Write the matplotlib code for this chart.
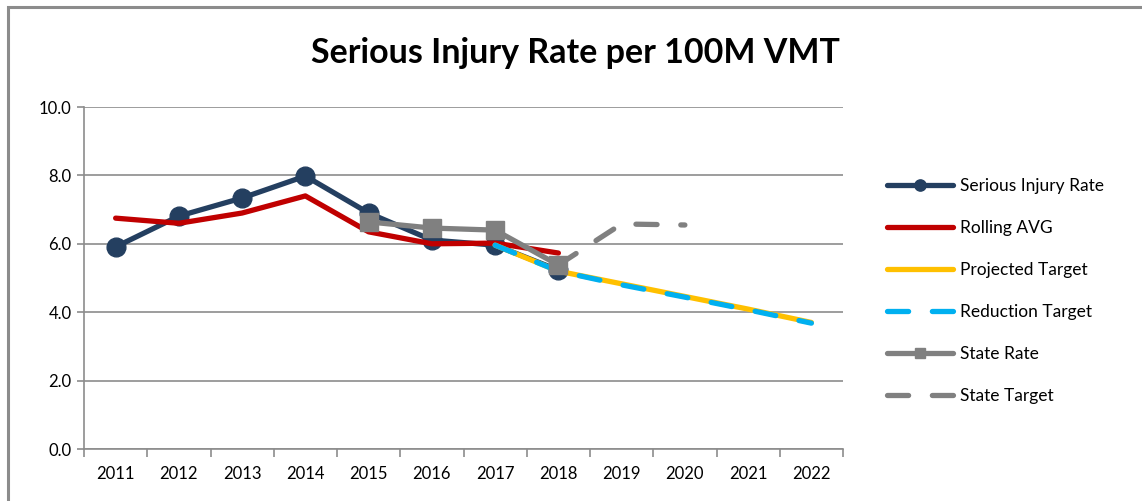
import matplotlib
matplotlib.use("Agg")
import matplotlib.pyplot as plt
from matplotlib.patches import Rectangle
import numpy as np

years = ["2011", "2012", "2013", "2014", "2015", "2016", "2017", "2018", "2019", "2020", "2021", "2022"]
serious_rate = [5.91, 6.81, 7.34, 7.98, 6.90, 6.11, 5.96, 5.23, None, None, None, None]
rolling_avg = [6.75, 6.60, 6.90, 7.40, 6.35, 6.00, 6.02, 5.73, None, None, None, None]
projected_target = [None, None, None, None, None, None, 5.96, 5.20, 4.83, 4.46, 4.09, 3.70]
reduction_target = [None, None, None, None, None, None, 5.96, 5.20, 4.80, 4.44, 4.07, 3.68]
state_rate = [None, None, None, None, 6.64, 6.46, 6.40, 5.38, None, None, None, None]
state_target = [None, None, None, None, None, None, None, 5.38, 6.58, 6.55, None, None]
yticks = [0, 2, 4, 6, 8, 10]

def arr(v):
    return np.array([np.nan if x is None else x for x in v], dtype=float)

plt.rcParams['font.family'] = ['Lato', 'DejaVu Sans']

fig = plt.figure(figsize=(11.42, 5.01), dpi=100)
fig.patches.append(Rectangle((8/1142, -0.1), 1.2, 1 - 7/501 + 0.1, transform=fig.transFigure,
                             fill=False, edgecolor='#8c8c8c', linewidth=2.2))
ax = fig.add_axes([84/1142, 1 - 449/501, (843-84)/1142, (449-107)/501])

x = np.arange(len(years))
navy = '#243F60'
red = '#C00000'
yellow = '#FFC000'
cyan = '#00B0F0'
gray = '#808080'

ax.plot(x, arr(serious_rate), color=navy, lw=3.8, marker='o', ms=13.5, label='Serious Injury Rate',
        solid_capstyle='round', solid_joinstyle='round', zorder=3)
ax.plot(x, arr(rolling_avg), color=red, lw=3.8, label='Rolling AVG',
        solid_capstyle='round', solid_joinstyle='round', zorder=3)
ax.plot(x, arr(projected_target), color=yellow, lw=3.8, label='Projected Target',
        solid_capstyle='round', zorder=3)
ax.plot(x, arr(reduction_target), color=cyan, lw=3.8, ls=(0, (4.0, 4.5)), label='Reduction Target',
        dash_capstyle='round', zorder=3)
ax.plot(x, arr(state_rate), color=gray, lw=3.8, marker='s', ms=13, label='State Rate',
        solid_capstyle='round', solid_joinstyle='round', zorder=3)
ax.plot(x, arr(state_target), color=gray, lw=3.8, ls=(0, (4.0, 4.5)), label='State Target',
        dash_capstyle='round', zorder=3)

ax.set_xlim(-0.5, len(years) - 0.5)
ax.set_ylim(0, 10)
ax.set_yticks(yticks)
ax.set_yticklabels([f"{v:.1f}" for v in yticks], fontsize=12)
ax.set_xticks(x)
ax.set_xticklabels(years, fontsize=12)
ax.set_xticks(np.arange(-0.5, len(years) + 0.5, 1), minor=True)
ax.tick_params(axis='x', which='major', length=0, pad=12)
ax.tick_params(axis='x', which='minor', length=6, color='#8c8c8c', width=1.2)
ax.tick_params(axis='y', length=5, color='#8c8c8c', width=1.2, pad=4)
ax.grid(axis='y', color='#8c8c8c', lw=1.2, zorder=0)
for s in ['top', 'right']:
    ax.spines[s].set_visible(False)
for s in ['left', 'bottom']:
    ax.spines[s].set_color('#8c8c8c')
    ax.spines[s].set_linewidth(1.2)

fig.text(0.5035, 1 - 53/501, "Serious Injury Rate per 100M VMT", ha='center', va='center',
         fontsize=24.5, fontweight='bold')

leg = ax.legend(loc='center left', bbox_to_anchor=(1.037, 0.462), frameon=False,
                fontsize=12.5, handlelength=3.8, labelspacing=1.5, handletextpad=0.4,
                markerscale=0.6)
fig.savefig("out.png", dpi=100)
